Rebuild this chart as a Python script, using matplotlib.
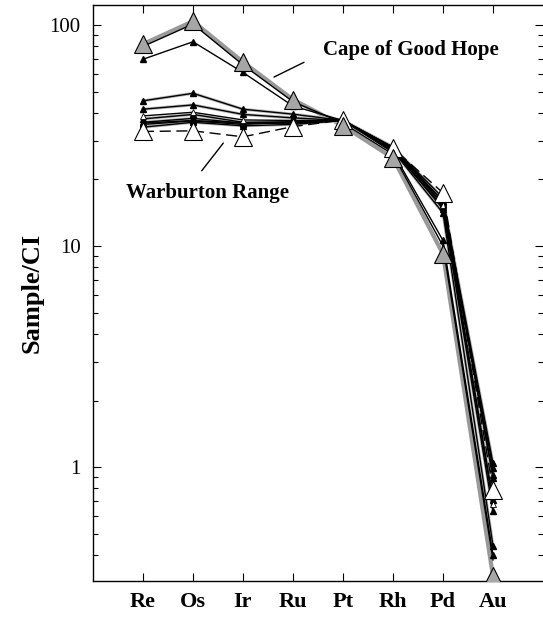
import numpy as np
import matplotlib
matplotlib.use("Agg")
import matplotlib.pyplot as plt
from matplotlib.ticker import LogLocator, NullFormatter, FixedLocator

plt.rcParams["font.family"] = ["Liberation Serif", "DejaVu Serif"]

# ── Data: CI-normalised PGE + Au abundances ───────────────────────────────────
elements = ["Re", "Os", "Ir", "Ru", "Pt", "Rh", "Pd", "Au"]

cgh_ref   = [82.0, 104.0, 68.0, 46.0, 35.0, 25.0, 9.2, 0.32]   # grey triangles
cgh_line  = [80.0, 101.0, 66.0, 45.0, 36.0, 26.0, 10.0, 0.38]
cgh_small = [70.0, 84.0, 61.0, 43.0, 37.0, 26.5, 10.6, 0.40]

wr_ref = [33.0, 33.2, 31.2, 34.7, 37.2, 27.7, 17.4, 0.79]      # open triangles, dashed

wr_small = [
    [45.4, 49.1, 41.6, 39.5, 37.0, 27.0, 14.1, 0.44],
    [41.6, 43.5, 39.4, 38.0, 37.0, 27.5, 14.7, 0.63],
    [37.6, 39.4, 36.3, 36.5, 37.0, 28.0, 15.9, 0.71],
    [36.3, 37.8, 36.0, 36.0, 37.0, 28.0, 16.5, 0.89],
    [34.5, 36.3, 35.0, 35.5, 37.0, 28.0, 15.5, 0.92],
    [35.5, 36.8, 35.5, 36.5, 37.0, 27.0, 15.0, 0.99],
    [36.0, 37.0, 36.0, 36.0, 37.0, 27.5, 16.0, 1.04],
]
wr_open_small = [38.8, 40.3, 37.2, 37.0, 37.0, 27.5, 15.3, 0.68]

x = np.arange(len(elements))

fig = plt.figure(figsize=(5.43, 6.18), dpi=100)
ax = fig.add_axes([93 / 543, 37 / 618, 450 / 543, 576 / 618])

# grey shadow lines under the Cape of Good Hope samples
ax.plot(x, cgh_ref, color="#999999", lw=3.0, zorder=1)
ax.plot(x, cgh_line, color="black", lw=1.0, zorder=2)
ax.plot(x, cgh_small, color="black", lw=1.0, marker="^", ms=4.5,
        mfc="black", mec="black", zorder=3)

for row in wr_small:
    ax.plot(x, row, color="#bbbbbb", lw=2.2, zorder=1)
    ax.plot(x, row, color="black", lw=1.0, marker="^", ms=4.5,
            mfc="black", mec="black", zorder=3)
ax.plot(x, wr_open_small, color="black", lw=1.0, marker="^", ms=4.5,
        mfc="white", mec="black", mew=0.6, zorder=3)

ax.plot(x, wr_ref, color="black", lw=1.0, ls=(0, (8, 4)), zorder=4)
ax.plot(x, wr_ref, ls="none", marker="^", ms=13, mfc="white",
        mec="black", mew=0.8, zorder=5)
ax.plot(x, cgh_ref, ls="none", marker="^", ms=13, mfc="#a6a6a6",
        mec="black", mew=0.8, zorder=5)

# ── Axes ──────────────────────────────────────────────────────────────────────
ax.set_yscale("log")
ax.set_ylim(0.305, 123.2)
ax.set_xlim(-1, 8)

ax.set_xticks(x)
ax.set_xticklabels(elements, fontsize=16, fontweight="bold")
ax.yaxis.set_major_locator(FixedLocator([1, 10, 100]))
ax.set_yticklabels(["1", "10", "100"], fontsize=15)
ax.yaxis.set_minor_locator(LogLocator(base=10, subs=np.arange(2, 10)))
ax.yaxis.set_minor_formatter(NullFormatter())

ax.tick_params(axis="both", which="major", direction="in", length=6,
               width=0.8, top=True, right=True, pad=8)
ax.tick_params(axis="y", which="minor", direction="in", length=3.5,
               width=0.8, right=True)
ax.tick_params(axis="y", which="major", pad=9)
ax.spines["right"].set_visible(False)
for s in ["left", "top", "bottom"]:
    ax.spines[s].set_linewidth(1.0)

ax.set_ylabel("Sample/CI", fontsize=19, fontweight="bold", labelpad=4)

# ── Group labels with leader lines ────────────────────────────────────────────
ax.text(5.36, 77, "Cape of Good Hope", fontsize=15, fontweight="bold",
        ha="center", va="center")
ax.annotate("", xy=(2.57, 57.4), xytext=(3.27, 68.7),
            arrowprops=dict(arrowstyle="-", color="black", lw=1.0))
ax.text(1.29, 17.4, "Warburton Range", fontsize=15, fontweight="bold",
        ha="center", va="center")
ax.annotate("", xy=(1.64, 29.9), xytext=(1.14, 21.4),
            arrowprops=dict(arrowstyle="-", color="black", lw=1.0))

fig.savefig("out.png", dpi=100)
